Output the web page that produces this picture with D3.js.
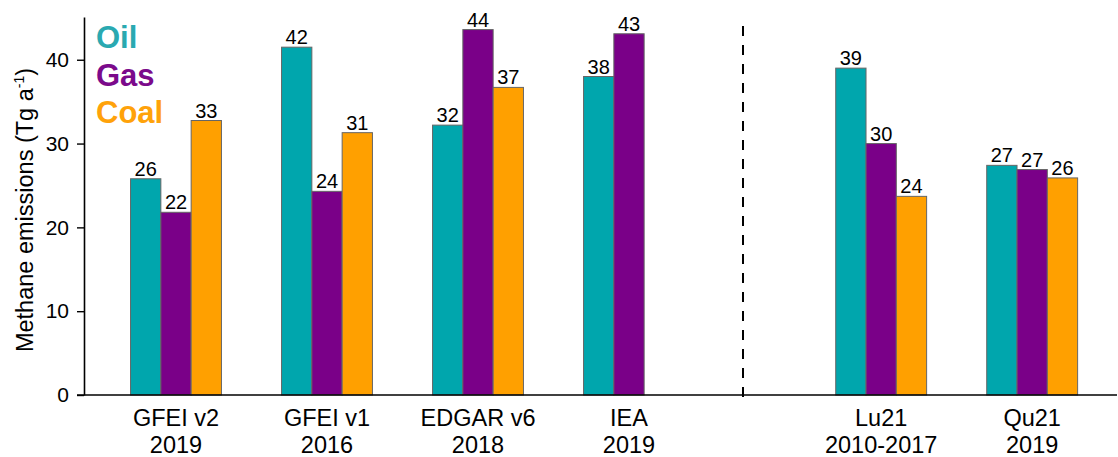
<!DOCTYPE html>
<html>
<head>
<meta charset="utf-8">
<script src="https://cdn.jsdelivr.net/npm/d3@7"></script>
<style>
  body { margin: 0; background: #fff; }
  text { font-family: "Liberation Sans", Arial, sans-serif; fill: #000; }
</style>
</head>
<body>
<script>
// data
var sources = ["GFEI v2", "GFEI v1", "EDGAR v6", "IEA", "Lu21", "Qu21"];
var years = ["2019", "2016", "2018", "2019", "2010-2017", "2019"];
var sectors = ["Oil", "Gas", "Coal"];
var oil = [25.8, 41.5, 32.2, 38.0, 39.0, 27.4];
var gas = [21.8, 24.3, 43.6, 43.1, 30.0, 26.9];
var coal = [32.75, 31.3, 36.7, null, 23.7, 25.9];
var oilLabels = ["26", "42", "32", "38", "39", "27"];
var gasLabels = ["22", "24", "44", "43", "30", "27"];
var coalLabels = ["33", "31", "37", null, "24", "26"];
var yTicks = [0, 10, 20, 30, 40];

var colors = {Oil: "#00a6ad", Gas: "#7a0088", Coal: "#ffa000"};
var legendColors = {Oil: "#2aa9b1", Gas: "#7b0a8b", Coal: "#ffa20a"};

var width = 1118, height = 457;
var x0 = 84, y0 = 395, yTop = 17;

var svg = d3.select("body").append("svg")
    .attr("width", width)
    .attr("height", height);

var yScale = d3.scaleLinear()
    .domain([0, 45.1])
    .range([y0, yTop]);

// group index -> x centre; gap of 0.67 slot after the dashed divider
var gapAfter = 3, gapSize = 0.67;
function slot(i) { return i > gapAfter ? i + gapSize : i; }
var xScale = d3.scaleLinear()
    .domain([0, 1])
    .range([176, 327]);

var barW = 30.3;
var series = [oil, gas, coal];
var labels = [oilLabels, gasLabels, coalLabels];

var bars = [];
sources.forEach(function (s, i) {
    sectors.forEach(function (sec, j) {
        if (series[j][i] == null) return;
        bars.push({
            i: i, j: j, sector: sec,
            value: series[j][i],
            label: labels[j][i]
        });
    });
});

function barX(d) {
    return xScale(slot(d.i)) + (d.j - 1.5) * barW;
}

svg.append("g").selectAll("rect")
    .data(bars)
    .enter().append("rect")
    .attr("x", barX)
    .attr("y", function (d) { return yScale(d.value); })
    .attr("width", barW)
    .attr("height", function (d) { return y0 - yScale(d.value); })
    .attr("fill", function (d) { return colors[d.sector]; })
    .attr("stroke", "#666")
    .attr("stroke-width", 1);

// value labels with white background
var lab = svg.append("g").selectAll("g")
    .data(bars)
    .enter().append("g")
    .attr("transform", function (d) {
        return "translate(" + (barX(d) + barW / 2) + "," + (yScale(d.value) - 3) + ")";
    });
lab.append("rect")
    .attr("x", -12).attr("y", -16)
    .attr("width", 24).attr("height", 17)
    .attr("fill", "#fff");
lab.append("text")
    .attr("text-anchor", "middle")
    .style("font-size", "20px")
    .text(function (d) { return d.label; });

// y axis
var yAxis = d3.axisLeft(yScale).tickValues(yTicks).tickSize(7).tickPadding(8).tickSizeOuter(0);
var gy = svg.append("g")
    .attr("transform", "translate(" + x0 + ",0)")
    .call(yAxis);
gy.select(".domain").attr("stroke", "#000").attr("stroke-width", 1.6);
gy.selectAll(".tick line").attr("stroke", "#000").attr("stroke-width", 1.4);
gy.selectAll(".tick text").style("font-size", "21px")
    .style("font-family", "'Liberation Sans', Arial, sans-serif").attr("fill", "#000");

// x axis line
svg.append("line")
    .attr("x1", x0 - 7).attr("x2", 1117)
    .attr("y1", y0).attr("y2", y0)
    .attr("stroke", "#000").attr("stroke-width", 1.6);

// x labels
var xl = svg.append("g").selectAll("text")
    .data(sources)
    .enter().append("text")
    .attr("x", function (d, i) { return xScale(slot(i)); })
    .attr("y", 426)
    .attr("text-anchor", "middle")
    .style("font-size", "23.5px");
xl.append("tspan").text(function (d) { return d; });
xl.append("tspan")
    .attr("x", function (d, i) { return xScale(slot(i)); })
    .attr("dy", 26.5)
    .text(function (d, i) { return years[i]; });

// dashed divider
var divX = xScale(gapAfter + 0.755);
svg.append("line")
    .attr("x1", divX).attr("x2", divX)
    .attr("y1", 26).attr("y2", 401)
    .attr("stroke", "#000")
    .attr("stroke-width", 2)
    .attr("stroke-dasharray", "10,9");

// y axis title
svg.append("text")
    .attr("transform", "translate(33,210) rotate(-90)")
    .attr("text-anchor", "middle")
    .style("font-size", "23.5px")
    .html("Methane emissions (Tg a<tspan dy='-9' style='font-size:14px'>-1</tspan><tspan dy='9'>)</tspan>");

// legend
svg.append("g").selectAll("text")
    .data(sectors)
    .enter().append("text")
    .attr("x", 96)
    .attr("y", function (d, i) { return 48 + i * 37.5; })
    .style("font-size", "31px")
    .style("font-weight", "bold")
    .style("fill", function (d) { return legendColors[d]; })
    .text(function (d) { return d; });
</script>
</body>
</html>
